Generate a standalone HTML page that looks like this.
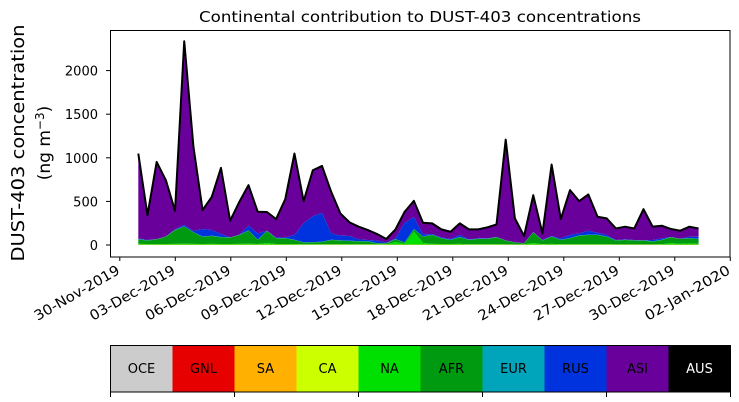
<!DOCTYPE html>
<html><head><meta charset="utf-8"><style>
body{margin:0;background:#fff;}
svg{display:block;font-family:"DejaVu Sans","Liberation Sans",sans-serif;}
</style></head><body>
<svg id="s" width="739" height="402" xmlns="http://www.w3.org/2000/svg">
<text x="420" y="22" font-size="15" text-anchor="middle" textLength="442" lengthAdjust="spacingAndGlyphs">Continental contribution to DUST-403 concentrations</text>
<g id="plot"></g>
<rect x="110.5" y="30.5" width="619.5" height="226.5" fill="none" stroke="#000" stroke-width="1"/>
<g font-size="13" text-anchor="end">
<text x="98" y="250">0</text>
<text x="98" y="206.5">500</text>
<text x="98" y="163">1000</text>
<text x="98" y="119">1500</text>
<text x="98" y="75.5">2000</text>
</g>
<g stroke="#000">
<line x1="106" x2="110" y1="245" y2="245"/><line x1="106" x2="110" y1="201.4" y2="201.4"/>
<line x1="106" x2="110" y1="157.8" y2="157.8"/><line x1="106" x2="110" y1="114.2" y2="114.2"/>
<line x1="106" x2="110" y1="70.6" y2="70.6"/>
</g>
<text transform="translate(24,143) rotate(-90)" font-size="18" text-anchor="middle" textLength="237" lengthAdjust="spacingAndGlyphs">DUST-403 concentration</text>
<text transform="translate(50,143) rotate(-90)" font-size="17" text-anchor="middle">(ng m<tspan dy="-6" font-size="12">−3</tspan><tspan dy="6">)</tspan></text>
<g id="xt" font-size="14" text-anchor="end"></g>
<g id="cb" font-size="13" text-anchor="middle"></g>
</svg>
<script>
var top_=[1048,343,952,743,392,2335,1130,400,552,884,278,495,686,381,378,297,526,1048,503,857,906,610,362,259,210,171,126,69,179,381,506,255,248,179,152,248,179,179,202,236,1208,305,103,571,133,922,297,629,503,579,324,305,190,210,190,411,210,221,183,164,210,190];
var afr=[65,50,65,95,170,210,145,95,103,88,84,114,165,57,160,76,76,57,27,30,34,57,50,46,42,38,19,19,65,27,180,95,114,76,57,88,57,69,69,88,50,27,19,145,50,95,57,76,107,114,114,95,50,57,50,50,38,57,88,69,76,69];
var rus=[76,57,65,95,179,230,160,183,172,126,84,114,220,133,156,88,88,114,250,330,370,133,107,103,65,57,50,27,76,255,320,122,126,88,69,114,65,76,76,88,50,27,19,145,57,103,76,114,133,164,141,114,57,65,57,50,57,76,88,65,95,95];
var na=[10,8,8,8,10,12,10,8,10,8,8,10,12,8,20,8,8,8,6,6,6,6,6,6,6,6,6,6,30,10,150,20,10,8,8,10,6,6,6,6,4,4,4,20,6,10,6,6,6,6,6,6,4,4,4,4,4,6,20,10,15,10];
function X(i){return 138.3+i*9.185;}
function Y(v){return 245-v*0.08725;}
var g=document.getElementById('plot'),ns='http://www.w3.org/2000/svg';
function area(up,lo,col){
  var d='M'+X(0)+','+Y(up[0]);
  for(var i=1;i<up.length;i++)d+='L'+X(i)+','+Y(up[i]);
  for(var i=lo.length-1;i>=0;i--)d+='L'+X(i)+','+Y(lo[i]);
  d+='Z';var p=document.createElementNS(ns,'path');p.setAttribute('d',d);p.setAttribute('fill',col);g.appendChild(p);
}
var z=top_.map(function(){return 0;});
var t2=top_.map(function(v){return 3;});
var naT=na.map(function(v,i){return v+3;});
var afrT=afr.map(function(v,i){return Math.max(v,naT[i]);});
var eurT=afrT.map(function(v,i){return v+3;});
var rusT=rus.map(function(v,i){return Math.max(v,eurT[i]);});
area(top_,rusT,'#6a009c');
area(rusT,eurT,'#0033dd');
area(eurT,afrT,'#00a4bb');
area(afrT,naT,'#009a10');
area(naT,t2,'#00e000');
area(t2,z,'#ffb000');
var d='M'+X(0)+','+Y(top_[0]);for(var i=1;i<top_.length;i++)d+='L'+X(i)+','+Y(top_[i]);
var p=document.createElementNS(ns,'path');p.setAttribute('d',d);p.setAttribute('fill','none');p.setAttribute('stroke','#000');p.setAttribute('stroke-width','2');p.setAttribute('stroke-linejoin','round');g.appendChild(p);
var labs=['30-Nov-2019','03-Dec-2019','06-Dec-2019','09-Dec-2019','12-Dec-2019','15-Dec-2019','18-Dec-2019','21-Dec-2019','24-Dec-2019','27-Dec-2019','30-Dec-2019','02-Jan-2020'];
var xt=document.getElementById('xt'),s='';
for(var k=0;k<12;k++){var x=119.8+k*55.5;
 s+='<line x1="'+x+'" x2="'+x+'" y1="257" y2="261" stroke="#000"/>';
 s+='<text transform="translate('+(x+1)+',273) rotate(-30)" textLength="96" lengthAdjust="spacingAndGlyphs">'+labs[k]+'</text>';}
xt.innerHTML=s;
var cols=['#cccccc','#e60000','#ffb000','#ccff00','#00e000','#009a10','#00a4bb','#0033dd','#6a009c','#000000'];
var names=['OCE','GNL','SA','CA','NA','AFR','EUR','RUS','ASI','AUS'];
s='';var w=62;
for(var k=0;k<10;k++){var x=110.5+k*w;
 s+='<rect x="'+x+'" y="345.5" width="'+w+'" height="46.5" fill="'+cols[k]+'"/>';
 s+='<text x="'+(x+w/2)+'" y="373" fill="'+(k==9?'#fff':'#000')+'">'+names[k]+'</text>';}
s+='<rect x="110.5" y="345.5" width="620" height="46.5" fill="none" stroke="#000"/>';
for(var k=0;k<6;k++){var x=110.5+k*124;s+='<line x1="'+x+'" x2="'+x+'" y1="392" y2="397" stroke="#000"/>';}
document.getElementById('cb').innerHTML=s;
</script>
</body></html>
